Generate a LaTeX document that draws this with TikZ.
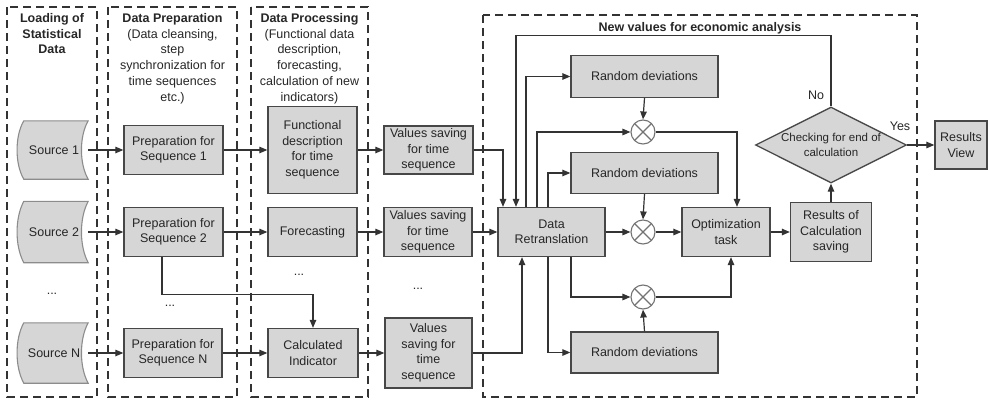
\documentclass[tikz,border=0pt]{standalone}
\usepackage{fontspec}
\setmainfont{Liberation Sans}
\usetikzlibrary{arrows.meta,shapes.geometric,calc,backgrounds}
\definecolor{boxfill}{HTML}{D6D6D6}
\definecolor{linecol}{HTML}{333333}
\definecolor{boxline}{HTML}{474747}
\definecolor{srcline}{HTML}{8C8C8C}
\newcommand{\srcshape}[1]{\filldraw[draw=srcline, fill=boxfill, line width=1.1pt]
  ($(#1.north west)+(4,0)$) -- (#1.north east)
  .. controls ($(#1.east)+(-9,-14)$) and ($(#1.east)+(-9,14)$) .. (#1.south east)
  -- ($(#1.south west)+(4,0)$)
  .. controls ($(#1.west)+(-5,14)$) and ($(#1.west)+(-5,-14)$) .. cycle;}
\tikzset{
  txt/.style={font=\fontsize{12.5pt}{15.5pt}\selectfont, align=center, text=black!85},
  box/.style={txt, draw=boxline, fill=boxfill, line width=1.3pt, inner sep=0pt},
  panel/.style={draw=linecol, line width=1.3pt, dash pattern=on 8pt off 5pt},
  title/.style={txt, font=\fontsize{12.5pt}{15.8pt}\selectfont, anchor=north, inner sep=0pt},
  conn/.style={draw=linecol, line width=1.2pt},
  arr/.style={conn, -{Triangle[length=8pt,width=6.5pt]}},
  mult/.style={circle, draw=black!55, fill=white, line width=1.1pt, minimum size=24pt, inner sep=0pt,
    path picture={\draw[black!55, line width=1.1pt]
      (path picture bounding box.north west) -- (path picture bounding box.south east)
      (path picture bounding box.north east) -- (path picture bounding box.south west);}},
  srcnode/.style={txt, minimum width=68pt, inner sep=0pt},
  dots/.style={txt, inner sep=0pt},
}
\begin{document}
\begin{tikzpicture}[x=1pt,y=-1pt]
\useasboundingbox (0,0) rectangle (988,399);

% panels
\draw[panel] (7,7) rectangle (97,397);
\draw[panel] (108,7) rectangle (237,397);
\draw[panel] (251,7) rectangle (368,397);
\draw[panel] (483,15) rectangle (917,397);

% titles
\node[title] (t1) at (52,13) {\textbf{Loading of}\\\textbf{Statistical}\\\textbf{Data}};
\node[title] (t2) at (172.5,13) {\textbf{Data Preparation}\\(Data cleansing,\\step\\synchronization for\\time sequences\\etc.)};
\node[title] (t3) at (309.5,13) {\textbf{Data Processing}\\(Functional data\\description,\\forecasting,\\calculation of new\\indicators)};
\node[title] (t4) at (700,22) {\textbf{New values for economic analysis}};

% sources
\node[srcnode, minimum height=58pt] (s1) at (54,150) {Source 1};
\node[srcnode, minimum height=61pt] (s2) at (54,232) {Source 2};
\node[srcnode, minimum height=60pt] (sN) at (54,353) {Source N};
\begin{scope}[on background layer]
\srcshape{s1}
\srcshape{s2}
\srcshape{sN}
\end{scope}
\node[dots] (d1) at (52,294) {...};

% preparation
\node[box, minimum width=99pt, minimum height=49pt] (p1) at (173.5,150) {Preparation for\\Sequence 1};
\node[box, minimum width=99pt, minimum height=49pt] (p2) at (173.5,232) {Preparation for\\Sequence 2};
\node[box, minimum width=98pt, minimum height=49pt] (pN) at (173,353) {Preparation for\\Sequence N};
\node[dots] (d2) at (170,306) {...};

% processing
\node[box, minimum width=89pt, minimum height=87pt] (f1) at (312.5,150) {Functional\\description\\for time\\sequence};
\node[box, minimum width=89pt, minimum height=49pt] (f2) at (312.5,232) {Forecasting};
\node[box, minimum width=90pt, minimum height=49pt] (fN) at (313,353) {Calculated\\Indicator};
\node[dots] (d3) at (299,275) {...};

% values saving
\node[box, minimum width=89pt, minimum height=48pt] (v1) at (428.5,150) {Values saving\\for time\\sequence};
\node[box, minimum width=88pt, minimum height=49pt] (v2) at (428,232) {Values saving\\for time\\sequence};
\node[box, minimum width=87pt, minimum height=70pt] (vN) at (428.5,353) {Values\\saving for\\time\\sequence};
\node[dots] (d4) at (418,289) {...};

% economic analysis
\node[box, minimum width=107pt, minimum height=49pt] (dr) at (551.5,232) {Data\\Retranslation};
\node[box, minimum width=147pt, minimum height=42pt] (r1) at (644.5,76.5) {Random deviations};
\node[box, minimum width=147pt, minimum height=41pt] (r2) at (644.5,173) {Random deviations};
\node[box, minimum width=147pt, minimum height=41pt] (r3) at (644.5,352.5) {Random deviations};
\node[mult] (c1) at (643,132) {};
\node[mult] (c2) at (643,232) {};
\node[mult] (c3) at (643,297) {};
\node[box, minimum width=88pt, minimum height=49pt] (op) at (726,232) {Optimization\\task};
\node[box, minimum width=81pt, minimum height=59pt] (rs) at (831,232) {Results of\\Calculation\\saving};
\node[diamond, aspect=2, draw=boxline, fill=boxfill, line width=1.3pt, inner sep=0pt,
      minimum width=151pt, minimum height=76pt, align=center, text=black!85,
      font=\fontsize{11.5pt}{14.5pt}\selectfont] (dia) at (831,145) {Checking for end of\\calculation};
\node[box, minimum width=52pt, minimum height=48pt] (rv) at (961,145) {Results\\View};
\node[txt, inner sep=0pt] (no) at (816,95) {No};
\node[txt, inner sep=0pt] (yes) at (900,126) {Yes};

% connectors row 1
\draw[arr] (s1) -- (p1);
\draw[arr] (p1) -- (f1);
\draw[arr] (f1) -- (v1);
% row 2
\draw[arr] (s2) -- (p2);
\draw[arr] (p2) -- (f2);
\draw[arr] (f2) -- (v2);
\draw[arr] (v2) -- (dr);
% row N
\draw[arr] (sN) -- (pN);
\draw[arr] (pN) -- (fN);
\draw[arr] (fN) -- (vN);
\draw[arr] ([xshift=-11.5pt]p2.south) |- ($(fN.north)+(0,-33)$) -- (fN.north);

% into data retranslation
\draw[arr] (v1.east) -| ([xshift=-48.5pt]dr.north);
\draw[arr] (vN.east) -| ([xshift=-29.5pt]dr.south);
\draw[arr] (dia.north) -- ++(0,-71) -| ([xshift=-35.5pt]dr.north);

% out of data retranslation
\draw[arr] ([xshift=-25.5pt]dr.north) |- (r1.west);
\draw[arr] ([xshift=-14.5pt]dr.north) |- (c1.west);
\draw[arr] ([xshift=-3.5pt]dr.north) |- (r2.west);
\draw[arr] (dr.east) -- (c2.west);
\draw[arr] ([xshift=19.5pt]dr.south) |- (c3.west);
\draw[arr] ([xshift=-3.5pt]dr.south) |- (r3.west);

% random deviations into multipliers
\draw[arr] (r1.south) -- (c1.north);
\draw[arr] (r2.south) -- (c2.north);
\draw[arr] (r3.north) -- (c3.south);

% multipliers into optimization
\draw[arr] (c1.east) -| ([xshift=11pt]op.north);
\draw[arr] (c2.east) -- (op.west);
\draw[arr] (c3.east) -| ([xshift=5pt]op.south);

% results
\draw[arr] (op.east) -- (rs.west);
\draw[arr] (rs.north) -- (dia.south);
\draw[arr] (dia.east) -- (rv.west);
\end{tikzpicture}
\end{document}
